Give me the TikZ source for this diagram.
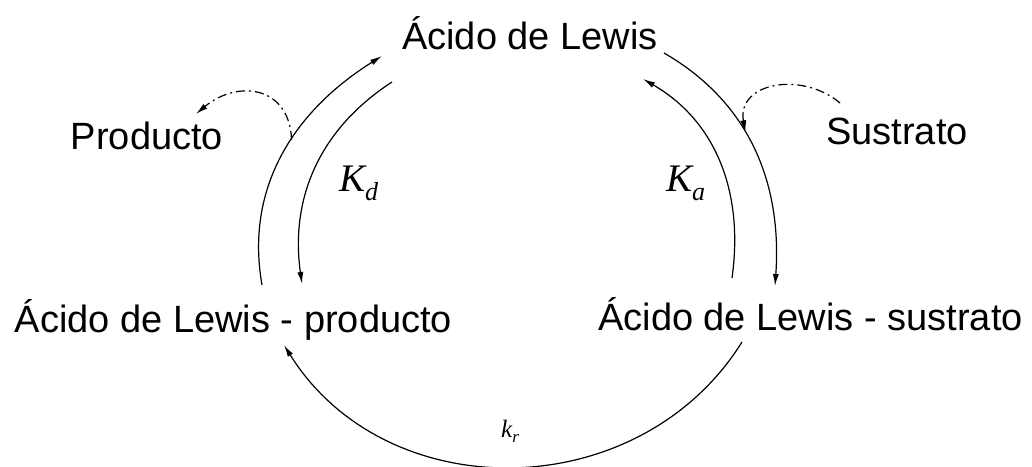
\documentclass[tikz,border=0pt]{standalone}
\usepackage{fontspec}
\setmainfont{Liberation Sans}
\newfontfamily\kfont{Liberation Serif}
\usetikzlibrary{arrows.meta}
\newcommand{\kk}[3]{{\kfont\itshape\fontsize{#1}{#1}\selectfont #2\raisebox{-0.22em}{\fontsize{26}{30}\selectfont #3}}}
\begin{document}
\begin{tikzpicture}[x=1pt,y=1pt,
  lbl/.style={anchor=base,inner sep=0pt,font=\fontsize{38}{44}\selectfont},
  klbl/.style={anchor=base west,inner sep=0pt},
  arc/.style={line width=1.2pt,black},
  darc/.style={line width=1.2pt,black,dash pattern=on 9pt off 4pt on 2pt off 4pt},
  tip/.style={-{Latex[length=12pt,width=6pt]}}]
\useasboundingbox (0,0) rectangle (1032,466);
% labels
\node[lbl] (la) at (530,416) {Ácido de Lewis};
\node[lbl] (prod) at (147,316) {Producto};
\node[lbl] (sust) at (897,321) {Sustrato};
\node[lbl] (lap) at (233.5,134) {Ácido de Lewis - producto};
\node[lbl] (las) at (810.5,136) {Ácido de Lewis - sustrato};
\node[klbl] (kd) at (339,274) {\kk{39}{K}{d}};
\node[klbl] (ka) at (666,274) {\kk{39}{K}{a}};
\node[klbl] (kr) at (501,29) {{\kfont\itshape\fontsize{25}{30}\selectfont k\raisebox{-0.2em}{\fontsize{17}{20}\selectfont r}}};
% endpoints
\coordinate (a1s) at (262,181);
\coordinate (a1e) at (382,410);
\coordinate (b1s) at (392,384);
\coordinate (b1e) at (302,182);
\coordinate (p1e) at (196,352);
\coordinate (c1s) at (664,413);
\coordinate (c1e) at (775,180);
\coordinate (s1s) at (840,363);
\coordinate (d1s) at (732,188);
\coordinate (d1e) at (643,387);
\coordinate (e1s) at (742,124);
\coordinate (e1e) at (284,121);
% left pair
\draw[arc,tip] (a1s) to[out=100,in=212] coordinate[pos=0.56] (pj) (a1e);
\draw[arc,tip] (b1s) to[out=213,in=98] (b1e);
\draw[darc,tip] (pj) to[out=92,in=40,looseness=1.4] (p1e);
% right pair
\draw[arc,tip] (c1s) to[out=-30,in=86] coordinate[pos=0.42] (sj) (c1e);
\draw[darc,tip] (s1s) to[out=140,in=100,looseness=1.3] (sj);
\draw[arc,tip] (d1s) to[out=82,in=-30] (d1e);
% bottom
\draw[arc,tip] (e1s) to[out=238,in=-58,looseness=1.08] (e1e);
\end{tikzpicture}
\end{document}
